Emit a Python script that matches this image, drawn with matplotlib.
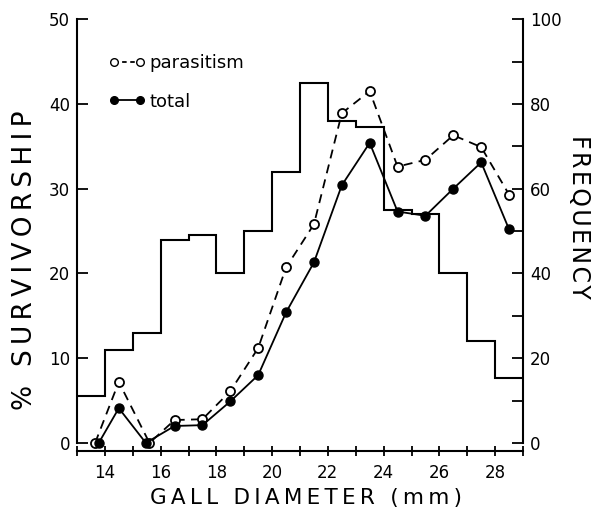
import matplotlib
matplotlib.use("Agg")
import matplotlib.pyplot as plt
from matplotlib.lines import Line2D
import numpy as np

# ---- data ----
bin_edges = [13, 14, 15, 16, 17, 18, 19, 20, 21, 22, 23, 24, 25, 26, 27, 28, 29]
frequency = [11, 22, 26, 48, 49, 40, 50, 64, 85, 76, 74.5, 55, 54, 40, 24, 15.4]

par_x = [13.65, 14.5, 15.6, 16.5, 17.5, 18.5, 19.5, 20.5, 21.5, 22.5, 23.5, 24.5, 25.5, 26.5, 27.5, 28.5]
parasitism = [0, 7.2, 0, 2.7, 2.8, 6.1, 11.2, 20.7, 25.8, 38.9, 41.5, 32.6, 33.4, 36.3, 34.9, 29.3]
tot_x = [13.78, 14.5, 15.47, 16.5, 17.5, 18.5, 19.5, 20.5, 21.5, 22.5, 23.5, 24.5, 25.5, 26.5, 27.5, 28.5]
total = [0, 4.1, 0, 2.0, 2.1, 4.9, 8.0, 15.4, 21.3, 30.4, 35.4, 27.3, 26.8, 30.0, 33.1, 25.2]

x_ticks = [14, 16, 18, 20, 22, 24, 26, 28]
left_ticks = [0, 10, 20, 30, 40, 50]
right_ticks = [0, 20, 40, 60, 80, 100]

plt.rcParams['font.family'] = ['DejaVu Sans']


def spaced(s, sp):
    return sp.join(s)


W, H = 603, 513
fig = plt.figure(figsize=(W / 100, H / 100), dpi=100)
x0, x1 = 77 / W, 523 / W
yb, yt = 1 - 451 / H, 1 - 17 / H
ax = fig.add_axes([x0, yb, x1 - x0, yt - yb])
ax2 = ax.twinx()

ylo = -0.95
ytop = 50.25
ax.set_xlim(13, 29)
ax.set_ylim(ylo, ytop)
ax2.set_ylim(2 * ylo, 2 * ytop)

lw = 1.3
# histogram (frequency)
ax2.stairs(frequency, bin_edges, baseline=None, color='black', linewidth=1.5)

# survivorship lines
ax.plot(par_x, parasitism, color='black', linestyle=(0, (5, 3.5)), linewidth=lw,
        marker='o', markersize=6.5, markerfacecolor='white', markeredgecolor='black',
        markeredgewidth=1.3, zorder=4)
ax.plot(tot_x, total, color='black', linestyle='-', linewidth=lw,
        marker='o', markersize=6.5, markerfacecolor='black', markeredgecolor='black',
        zorder=5)

ax.set_zorder(ax2.get_zorder() + 1)
ax.patch.set_visible(False)

# spines
for a in (ax, ax2):
    a.spines['top'].set_visible(False)
    for s in a.spines.values():
        s.set_linewidth(1.5)
ax.spines['left'].set_bounds(0, 50)
ax.spines['right'].set_visible(False)
ax2.spines['left'].set_visible(False)
ax2.spines['bottom'].set_visible(False)
ax2.spines['right'].set_bounds(0, 100)

ax.set_xticks(x_ticks)
ax.set_xticks(range(13, 30), minor=True)
ax.tick_params(axis='x', which='both', direction='inout', length=7, width=1.3,
               labelsize=12, pad=6)
ax.set_yticks(left_ticks)
ax.tick_params(axis='y', direction='in', length=8, width=1.3, labelsize=12, pad=5)
ax2.set_yticks(right_ticks)
ax2.set_yticks(range(0, 101, 10), minor=True)
ax2.tick_params(axis='y', which='both', direction='in', length=8, width=1.3,
                labelsize=12, pad=5)

# axis titles (letter-spaced like the original lettering)
fig.text(306 / W, 1 - 498 / H, spaced('GALL DIAMETER (mm)', '\u2009'),
         fontsize=15.5, ha='center', va='center')
fig.text(25 / W, 1 - 260 / H, spaced('% SURVIVORSHIP', '\u2009'),
         fontsize=19, ha='center', va='center', rotation=90)
fig.text(579 / W, 1 - 217 / H, spaced('FREQUENCY', '\u200a'),
         fontsize=17, ha='center', va='center', rotation=-90)

handles = [
    Line2D([], [], color='black', linestyle=(0, (2.5, 2)), linewidth=lw, marker='o',
           markersize=5.5, markerfacecolor='white', markeredgecolor='black'),
    Line2D([], [], color='black', linestyle='-', linewidth=lw, marker='o',
           markersize=5.5, markerfacecolor='black'),
]
ax.legend(handles, ['parasitism', 'total'], loc='upper left',
          bbox_to_anchor=(109 / W, 1 - 54 / H), bbox_transform=fig.transFigure,
          frameon=False, numpoints=2, handlelength=2.0, handletextpad=0.25,
          labelspacing=1.15, borderpad=0, borderaxespad=0, fontsize=13)

fig.savefig('out.png', dpi=100, facecolor='white')
